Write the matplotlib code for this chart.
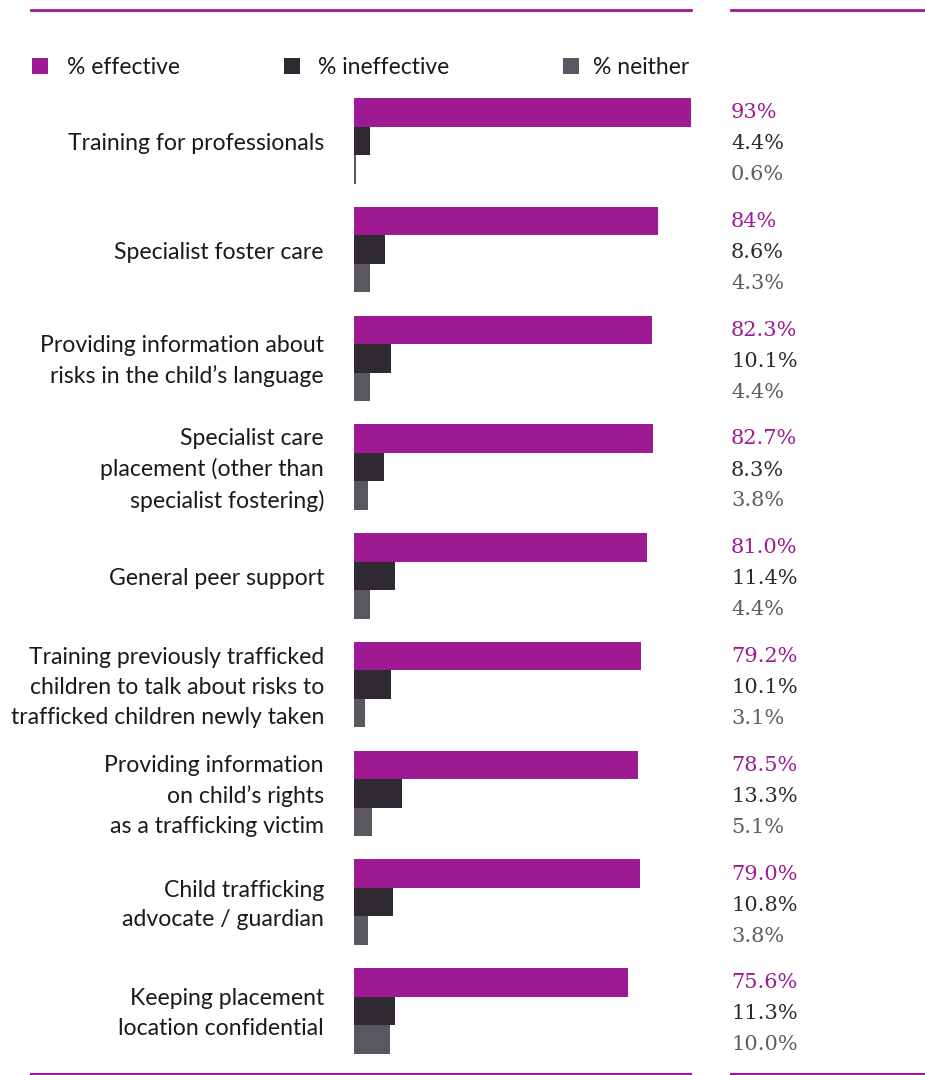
import matplotlib
matplotlib.use("Agg")
import matplotlib.pyplot as plt
from matplotlib.patches import Rectangle
from matplotlib.lines import Line2D
import matplotlib.transforms as mtrans

categories = [
    "Training for professionals",
    "Specialist foster care",
    "Providing information about\nrisks in the child\u2019s language",
    "Specialist care\nplacement (other than\nspecialist fostering)",
    "General peer support",
    "Training previously trafficked\nchildren to talk about risks to\ntrafficked children newly taken",
    "Providing information\non child\u2019s rights\nas a trafficking victim",
    "Child trafficking\nadvocate / guardian",
    "Keeping placement\nlocation confidential",
]
effective = [93.0, 84.0, 82.3, 82.7, 81.0, 79.2, 78.5, 79.0, 75.6]
ineffective = [4.4, 8.6, 10.1, 8.3, 11.4, 10.1, 13.3, 10.8, 11.3]
neither = [0.6, 4.3, 4.4, 3.8, 4.4, 3.1, 5.1, 3.8, 10.0]
effective_labels = ["93%", "84%", "82.3%", "82.7%", "81.0%", "79.2%", "78.5%", "79.0%", "75.6%"]
ineffective_labels = ["4.4%", "8.6%", "10.1%", "8.3%", "11.4%", "10.1%", "13.3%", "10.8%", "11.3%"]
neither_labels = ["0.6%", "4.3%", "4.4%", "3.8%", "4.4%", "3.1%", "5.1%", "3.8%", "10.0%"]
series_names = ["% effective", "% ineffective", "% neither"]

PURPLE = "#9E1A92"
DARK = "#2F2A32"
GREY = "#5A5760"
LBL_COLORS = ["#9E1A92", "#2E2A30", "#5E5C64"]

W, H = 925, 1075
fig = plt.figure(figsize=(W / 100, H / 100), dpi=100)

def fx(px):
    return px / W

def fy(py):
    return 1 - py / H

group_px = 108.75
bar_px = 28.5
h = bar_px / group_px
lab_step = 31 / group_px
shift = 3 / group_px
n = len(categories)
top_px = 98
ymax = (n - 1) + 3 * h
bottom_px = top_px + ymax * group_px

ax_left, ax_right = 354, 354 + 362
ax = fig.add_axes([fx(ax_left), fy(bottom_px), fx(ax_right - ax_left), (bottom_px - top_px) / H])
ax.set_xlim(0, 100)
ax.set_ylim(ymax, 0)
ax.axis("off")

ys = list(range(n))
series = [effective, ineffective, neither]
labels = [effective_labels, ineffective_labels, neither_labels]
colors = [PURPLE, DARK, GREY]

blend = mtrans.blended_transform_factory(fig.transFigure, ax.transData)

for j, (vals, col, labs) in enumerate(zip(series, colors, labels)):
    yy = [y + j * h for y in ys]
    ax.barh(yy, vals, height=h, align="edge", color=col, linewidth=0)
    for y, lab in zip(ys, labs):
        yc = y + 1.5 * h + (j - 1) * lab_step + shift
        ax.text(fx(731), yc, lab, transform=blend, ha="left", va="center",
                fontsize=15, family="DejaVu Serif", color=LBL_COLORS[j])

for y, cat in zip(ys, categories):
    ax.text(fx(324), y + 1.5 * h + shift, cat, transform=blend, ha="right", va="center",
            fontsize=16.6, family="Lato", color="#1A1A1A", linespacing=1.52)

# legend
leg = [(32, series_names[0], PURPLE, 67), (284, series_names[1], DARK, 318), (563, series_names[2], GREY, 593)]
for sx, name, col, tx in leg:
    fig.patches.append(Rectangle((fx(sx), fy(74)), fx(16), 16 / H, transform=fig.transFigure,
                                 color=col, linewidth=0))
    fig.text(fx(tx), fy(68), name, ha="left", va="center", fontsize=16.5, family="Lato", color="#1A1A1A")

# rules
for (x0, x1, yp, lw) in [(31, 691, 10, 2.0), (731, 925, 10, 2.0), (31, 691, 1074, 1.5), (731, 925, 1074, 1.5)]:
    fig.add_artist(Line2D([fx(x0), fx(x1)], [fy(yp), fy(yp)], transform=fig.transFigure,
                          color=PURPLE, linewidth=lw))

fig.savefig("out.png", dpi=100)
